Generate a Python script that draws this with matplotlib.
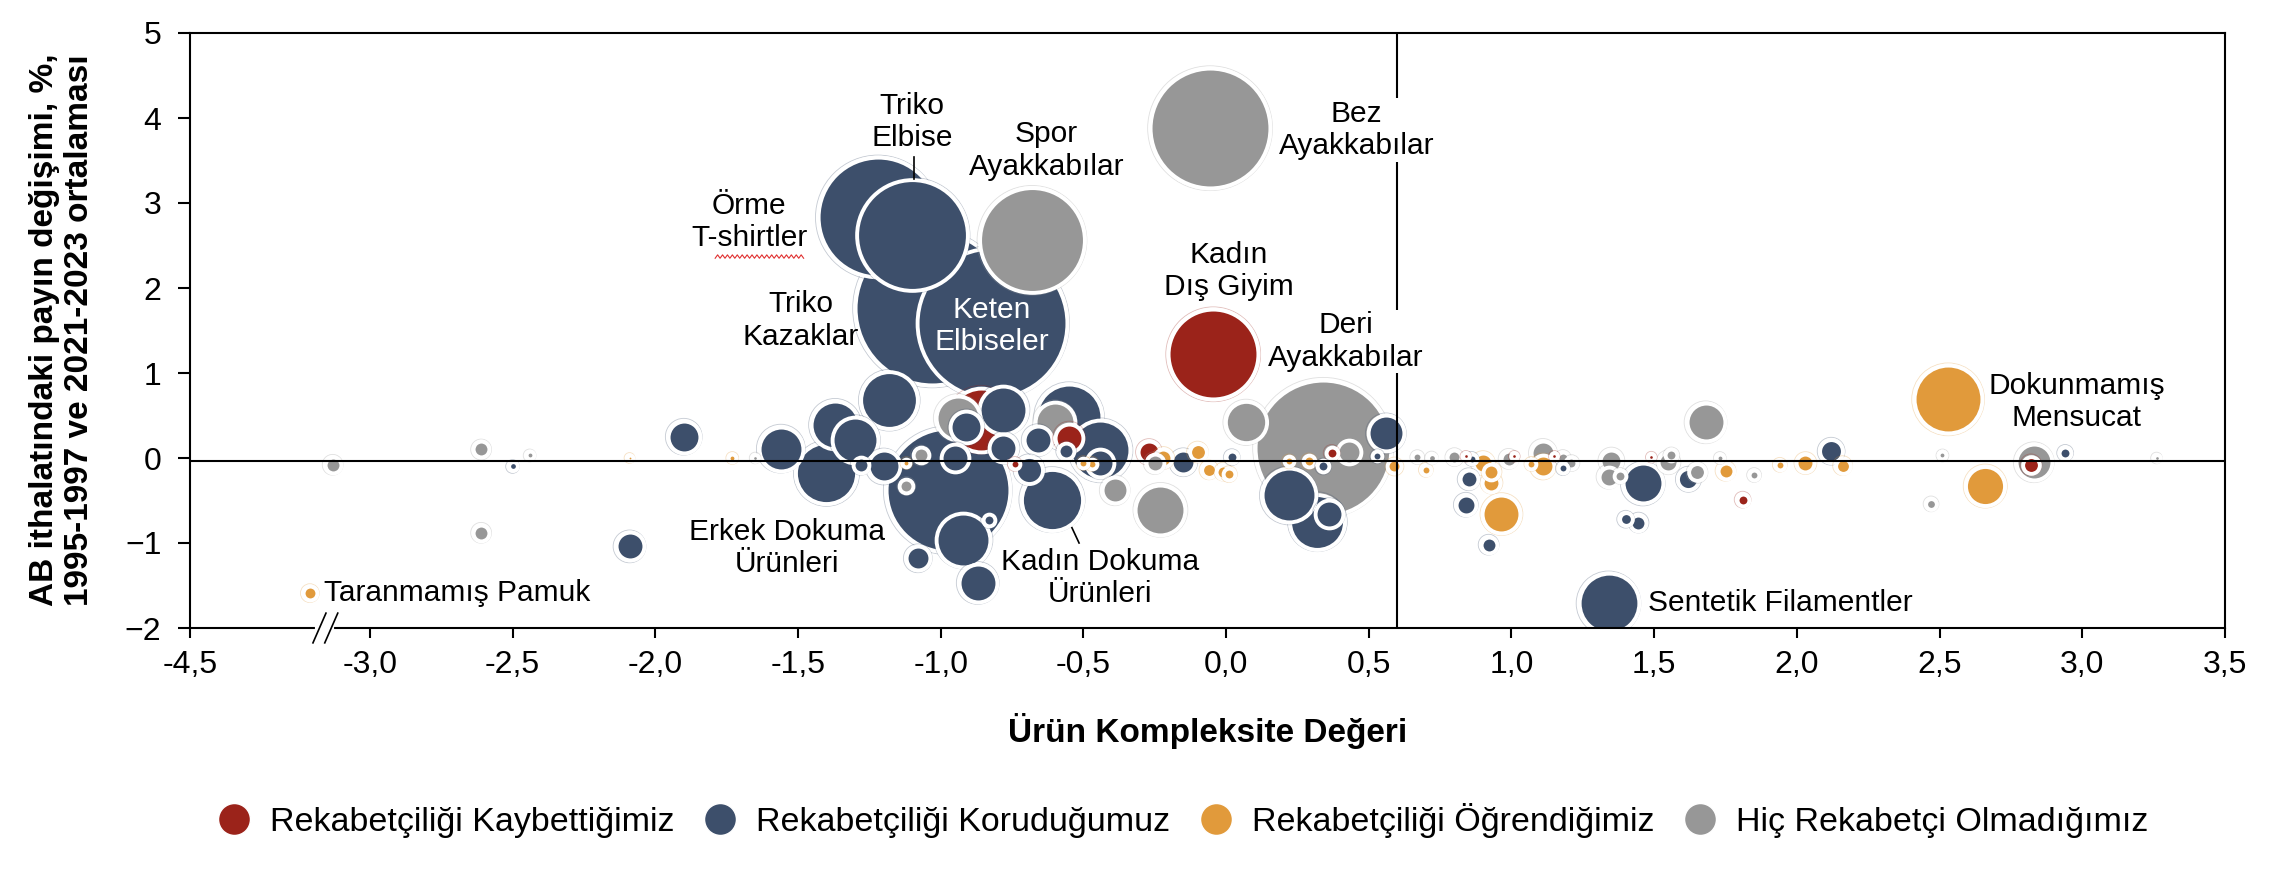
import numpy as np
import matplotlib
matplotlib.use("Agg")
import matplotlib.pyplot as plt
from matplotlib.lines import Line2D

plt.rcParams['font.family'] = ['Liberation Sans', 'DejaVu Sans']

# --- data: (complexity, share change, bubble size) per group ---
# Rekabetçiliği Kaybettiğimiz
kaybet_x = [-0.045, -0.86, -0.55, -0.27, -0.74, 0.37, 1.81, 2.82, 1.49, 0.84, 1.01, 1.15]
kaybet_y = [1.22, 0.45, 0.24, 0.07, -0.07, 0.06, -0.49, -0.08, 0.01, 0.02, 0.02, 0.02]
kaybet_s = [1850, 900, 144, 81, 9, 16, 16, 42, 2, 2, 2, 2]

# Rekabetçiliği Koruduğumuz
koru_x = [-0.82, -1.03, -1.10, -1.22, -0.975, -0.61, 1.34, -1.90, -2.09, -2.50,
          -1.56, -1.40, -1.37, -1.30, -1.18, -1.28, -1.20, -1.08, -0.92, -0.87,
          -0.95, -0.83, -0.78, -0.91, -0.78, -0.55, -0.66, -0.44, -0.44, -0.69,
          -0.56, -0.15, 0.02, 0.22, 0.32, 0.36, 0.56, 0.34, 0.53, 0.85,
          0.84, 0.92, 0.86, 1.18, 1.46, 1.40, 1.445, 1.62, 2.12, 2.94]
koru_y = [1.59, 1.76, 2.62, 2.83, -0.38, -0.49, -1.71, 0.25, -1.04, -0.10,
          0.11, -0.18, 0.39, 0.21, 0.68, -0.08, -0.10, -1.18, -0.96, -1.47,
          0.00, -0.73, 0.57, 0.36, 0.12, 0.48, 0.21, 0.09, -0.06, -0.14,
          0.08, -0.05, 0.01, -0.44, -0.75, -0.66, 0.29, -0.10, 0.02, -0.25,
          -0.55, -1.02, -0.01, -0.12, -0.30, -0.72, -0.76, -0.25, 0.08, 0.06]
koru_s = [5330, 5625, 2860, 3360, 3600, 820, 780, 196, 144, 6,
          400, 820, 484, 441, 700, 36, 196, 100, 625, 289,
          144, 16, 484, 196, 144, 961, 144, 784, 144, 135,
          36, 100, 16, 625, 650, 144, 256, 16, 9, 49,
          64, 36, 9, 9, 324, 20, 36, 74, 90, 16]

# Rekabetçiliği Öğrendiğimiz
ogren_x = [2.53, 2.66, 0.965, -3.50, -2.09, -1.73, -1.12, -0.50, -0.47, -0.22,
           -0.10, -0.06, -0.01, 0.01, 0.22, 0.29, 0.59, 0.70, 0.90, 0.93,
           0.93, 1.11, 1.07, 1.75, 1.94, 2.03, 2.16]
ogren_y = [0.69, -0.33, -0.66, -1.59, 0.00, 0.00, -0.06, -0.06, -0.07, 0.00,
           0.07, -0.14, -0.16, -0.19, -0.04, -0.04, -0.10, -0.14, -0.06, -0.16,
           -0.29, -0.10, -0.07, -0.15, -0.08, -0.06, -0.09]
ogren_s = [1024, 310, 289, 25, 1, 4, 4, 9, 9, 49,
           42, 30, 25, 16, 9, 16, 25, 9, 64, 36,
           49, 81, 9, 36, 9, 49, 30]

# Hiç Rekabetçi Olmadığımız
hic_x = [-0.056, -0.68, 0.34, -3.31, -2.61, -2.44, -2.61, -1.65, -1.07, -1.12,
         -0.94, -0.60, -0.39, -0.23, -0.25, 0.07, 0.43, 0.67, 0.72, 0.80,
         0.99, 1.11, 1.18, 1.21, 1.35, 1.34, 1.38, 1.55, 1.56, 1.65,
         1.68, 1.85, 1.73, 2.47, 2.51, 2.83, 3.26]
hic_y = [3.88, 2.56, 0.12, -0.08, 0.10, 0.03, -0.88, 0.00, 0.03, -0.33,
         0.47, 0.42, -0.38, -0.61, -0.06, 0.42, 0.07, 0.01, 0.00, 0.01,
         -0.01, 0.06, 0.00, -0.06, -0.03, -0.22, -0.21, -0.05, 0.03, -0.17,
         0.42, -0.20, 0.00, -0.54, 0.03, -0.05, 0.00]
hic_s = [3364, 2550, 4356, 36, 36, 4, 36, 2, 36, 25,
         400, 324, 121, 529, 49, 350, 100, 9, 6, 25,
         36, 100, 16, 16, 81, 64, 16, 64, 16, 42,
         289, 9, 4, 12, 4, 256, 2]

gruplar = ['Rekabetçiliği Kaybettiğimiz', 'Rekabetçiliği Koruduğumuz',
           'Rekabetçiliği Öğrendiğimiz', 'Hiç Rekabetçi Olmadığımız']
renkler = ['#9B231A', '#3D4F6B', '#E19A3B', '#979797']

x_ticks = [-4.5, -3.0, -2.5, -2.0, -1.5, -1.0, -0.5, 0.0, 0.5, 1.0, 1.5, 2.0, 2.5, 3.0, 3.5]
y_ticks = [-2, -1, 0, 1, 2, 3, 4, 5]
esik_x = 0.6      # vertical reference line
ort_y = -0.03     # horizontal reference line

# broken axis: values left of -3 are compressed
K = 0.42
def fwd(v):
    v = np.asarray(v, dtype=float)
    return np.where(v < -3, -3 + (v + 3) * K, v)
def inv(v):
    v = np.asarray(v, dtype=float)
    return np.where(v < -3, -3 + (v + 3) / K, v)

fig = plt.figure(figsize=(22.96, 8.72), dpi=100)
ax = fig.add_axes([190 / 2296, 1 - 628 / 872, 2035 / 2296, 595 / 872])
ax.set_xscale('function', functions=(fwd, inv))
ax.set_xlim(-4.5, 3.5)
ax.set_ylim(-2, 5)

# collect all bubbles, draw biggest first
xs, ys, ss, cs = [], [], [], []
for gx, gy, gs, c in [(kaybet_x, kaybet_y, kaybet_s, renkler[0]),
                      (koru_x, koru_y, koru_s, renkler[1]),
                      (ogren_x, ogren_y, ogren_s, renkler[2]),
                      (hic_x, hic_y, hic_s, renkler[3])]:
    xs += gx; ys += gy; ss += gs; cs += [c] * len(gx)
order = np.argsort(ss)[::-1]
px2pt = 72 / 100
for k, i in enumerate(order):
    r = np.sqrt(ss[i])
    z = 2 + k * 0.01
    ax.scatter(xs[i], ys[i], s=(2 * (r + 4.4) * px2pt) ** 2, facecolor='none',
               edgecolor=cs[i], alpha=0.3, linewidths=0.6, zorder=z)
    ax.scatter(xs[i], ys[i], s=(2 * (r + 1.9) * px2pt) ** 2, facecolor=cs[i],
               edgecolor='white', linewidths=2.8, zorder=z + 0.005)

ax.axhline(ort_y, color='black', lw=1.5, zorder=10)
ax.axvline(esik_x, color='black', lw=1.5, zorder=10)

for sp in ax.spines.values():
    sp.set_linewidth(1.5)
ax.set_xticks(x_ticks)
ax.set_xticklabels([f"{t:.1f}".replace('.', ',') for t in x_ticks])
ax.set_yticks(y_ticks)
ax.tick_params(axis='both', labelsize=23, width=1.5)
ax.tick_params(axis='x', length=7.5, pad=8)
ax.tick_params(axis='y', length=8.5, pad=12)
ax.minorticks_off()

# axis break mark
fb = (fwd(-3.42) - fwd(-4.5)) / (fwd(3.5) - fwd(-4.5))
ax.plot([fb - 0.001, fb + 0.006], [0, 0], transform=ax.transAxes, color='white',
        lw=3, clip_on=False, zorder=20)
for d in (0.0, 0.0058):
    ax.plot([fb + d + 0.0032, fb + d - 0.0032], [0.025, -0.025], transform=ax.transAxes,
            color='black', lw=1.2, clip_on=False, zorder=21)

fs = 21.5
bb = dict(facecolor='white', edgecolor='none', pad=1)
ax.text(-1.10, 3.95, 'Triko\nElbise', fontsize=fs, ha='center', va='center', zorder=30)
ax.plot([-1.095, -1.095], [3.54, 3.28], color='black', lw=1.2, zorder=30)
ax.text(-0.63, 3.62, 'Spor\nAyakkabılar', fontsize=fs, ha='center', va='center', zorder=30)
ax.text(0.456, 3.86, 'Bez\nAyakkabılar', fontsize=fs, ha='center', va='center', bbox=bb, zorder=30)
ax.text(0.01, 2.2, 'Kadın\nDış Giyim', fontsize=fs, ha='center', va='center', zorder=30)
ax.text(0.42, 1.37, 'Deri\nAyakkabılar', fontsize=fs, ha='center', va='center', bbox=bb, zorder=30)
ax.text(-1.67, 2.78, 'Örme\nT-shirtler', fontsize=fs, ha='center', va='center', zorder=30)
ax.text(-1.49, 1.62, 'Triko\nKazaklar', fontsize=fs, ha='center', va='center', zorder=30)
ax.text(-0.82, 1.55, 'Keten\nElbiseler', fontsize=fs, ha='center', va='center', color='white', zorder=30)
ax.text(-1.54, -1.06, 'Erkek Dokuma\nÜrünleri', fontsize=fs, ha='center', va='center', zorder=30)
ax.text(-0.44, -1.41, 'Kadın Dokuma\nÜrünleri', fontsize=fs, ha='center', va='center', zorder=30)
ax.plot([-0.54, -0.515], [-0.82, -1.0], color='black', lw=1.2, zorder=30)
ax.text(-3.38, -1.59, 'Taranmamış Pamuk', fontsize=fs, ha='left', va='center', zorder=30)
ax.text(1.48, -1.71, 'Sentetik Filamentler', fontsize=fs, ha='left', va='center', zorder=30)
ax.text(2.98, 0.66, 'Dokunmamış\nMensucat', fontsize=fs, ha='center', va='center', zorder=30)

# spell-check squiggle under "shirtler"
zx = np.linspace(-1.79, -1.48, 37)
zy = 2.37 + 0.02 * (np.arange(37) % 2 * 2 - 1)
ax.plot(zx, zy, color='#E03030', lw=0.8, zorder=30)

ax.set_xlabel('Ürün Kompleksite Değeri', fontsize=24, fontweight='bold', labelpad=24)
fig.text(0.027, 1 - 330 / 872, 'AB ithalatındaki payın değişimi, %,\n1995-1997 ve 2021-2023 ortalaması',
         rotation=90, ha='center', va='center', multialignment='center',
         fontsize=24, fontweight='bold', linespacing=1.15)

handles = [Line2D([], [], marker='o', ls='none', markersize=23, markerfacecolor=c,
                  markeredgecolor='white', markeredgewidth=1.0) for c in renkler]
fig.legend(handles, gruplar, loc='center', bbox_to_anchor=(0.515, 1 - 820 / 872), ncol=4,
           frameon=False, fontsize=24.5, handletextpad=0.55, columnspacing=0.85,
           handlelength=1.0)

fig.savefig('out.png', dpi=100)
